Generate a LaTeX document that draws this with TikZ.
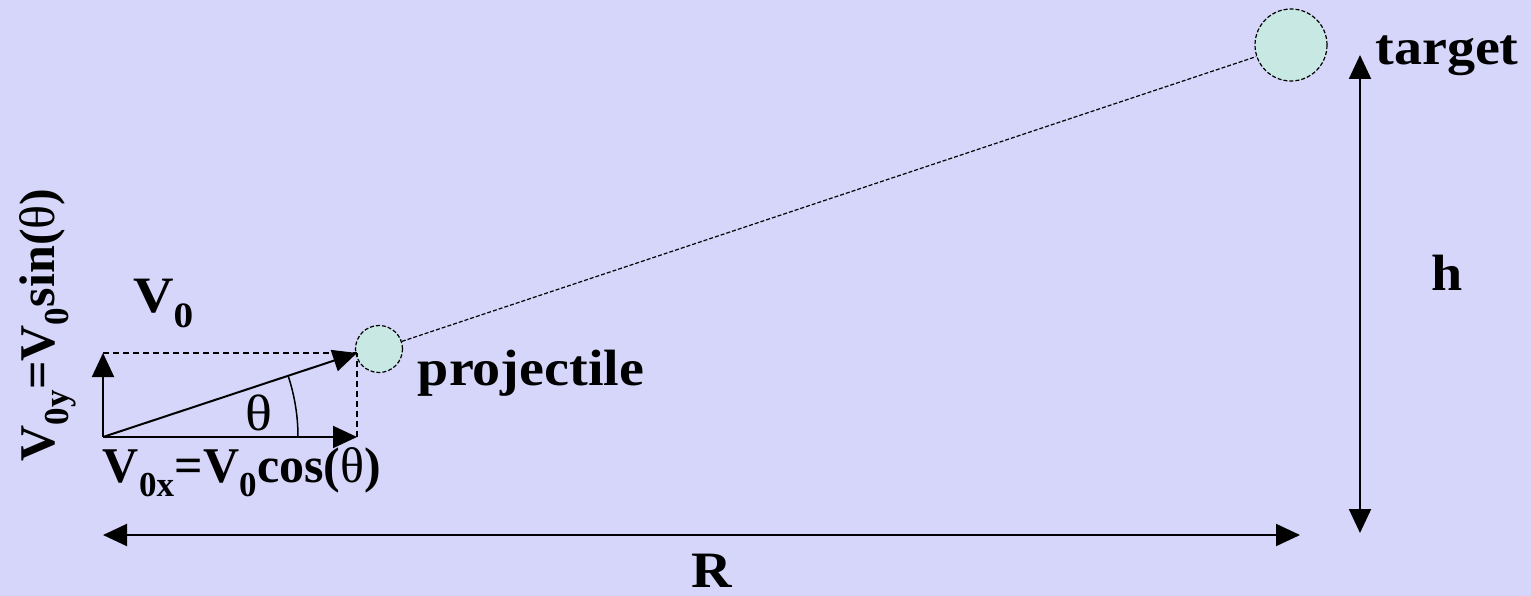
\documentclass[tikz,border=0pt]{standalone}
\usepackage{fontspec}
\setmainfont{Liberation Serif}
\usetikzlibrary{arrows.meta}
\definecolor{bgc}{RGB}{214,214,250}
\definecolor{ballc}{RGB}{200,232,228}
\begin{document}
\begin{tikzpicture}[x=1pt,y=-1pt,
 lbl/.style={font=\fontsize{51}{51}\selectfont\bfseries, inner sep=0, anchor=base, xscale=1.1},
 eqn/.style={font=\fontsize{50}{50}\selectfont\bfseries, inner sep=0, anchor=base},
 vec/.style={line width=2pt, -{Triangle[length=24pt,width=22pt]}},
 dim/.style={line width=2pt, {Triangle[length=24pt,width=22pt]}-{Triangle[length=24pt,width=22pt]}},
 guide/.style={line width=1.5pt, dash pattern=on 6pt off 4pt},
 ball/.style={circle, draw, fill=ballc, line width=1.2pt, dash pattern=on 4pt off 2pt, inner sep=0}]
\fill[bgc] (0,0) rectangle (1531,596);
\useasboundingbox (0,0) rectangle (1531,596);
\coordinate (O) at (103,437);
\coordinate (X) at (357,437);
\coordinate (Y) at (103,353);
\coordinate (P) at (357,353);
\coordinate (A) at (298,437);
\coordinate (hT) at (1360,55);
\coordinate (hB) at (1360,533);
\coordinate (RL) at (103,535);
\coordinate (RR) at (1300,535);
\node[ball, minimum size=47pt] (proj) at (379,349) {};
\node[ball, minimum size=72pt] (targ) at (1291,45) {};
\draw[guide] (Y) -- (P);
\draw[guide] (X) -- (P);
\draw[vec] (O) -- (X);
\draw[vec] (O) -- (Y);
\draw[vec] (O) -- (P);
\draw[line width=1.2pt, dash pattern=on 4pt off 2pt] (proj) -- (targ);
\draw[line width=1.5pt] (A) arc[start angle=0, end angle=18.3, radius=195pt];
\draw[dim] (hT) -- (hB);
\draw[dim] (RL) -- (RR);
\node[lbl, anchor=base west] (v0) at (133,312) {V\textsubscript{0}};
\node[eqn, rotate=90] (vy) at (54,325) {V\textsubscript{0y}=V\textsubscript{0}sin({\mdseries θ})};
\node[eqn] (vx) at (242,482) {V\textsubscript{0x}=V\textsubscript{0}cos({\mdseries θ})};
\node[lbl] (theta) at (259,430) {\mdseries θ};
\node[lbl] (pl) at (531,385) {projectile};
\node[lbl] (tl) at (1447,65) {target};
\node[lbl] (hl) at (1447,290) {h};
\node[lbl] (rl) at (712,587) {R};
\end{tikzpicture}
\end{document}
